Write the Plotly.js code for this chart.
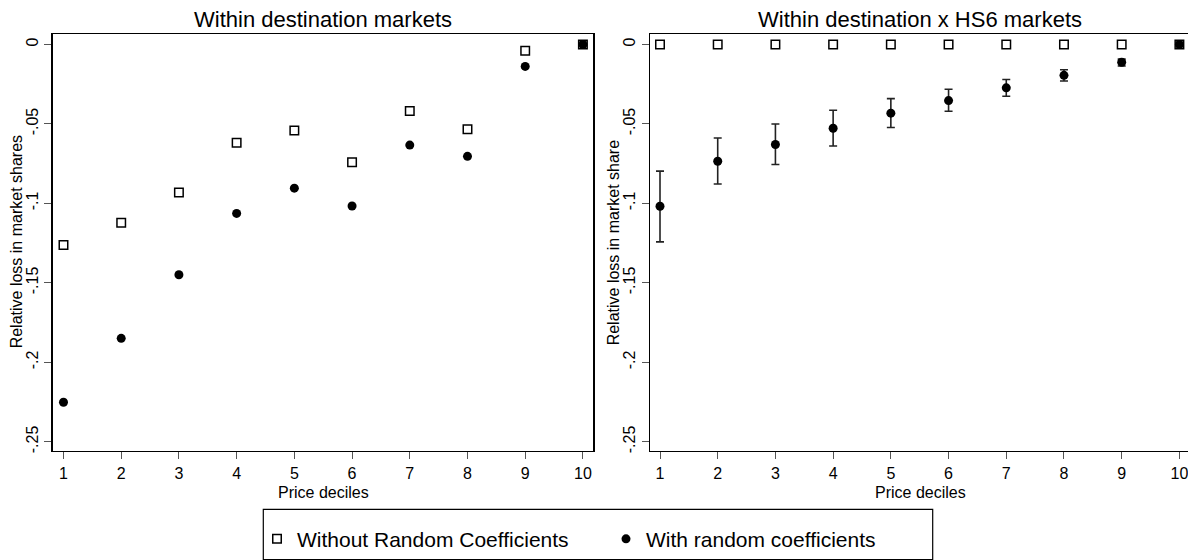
<!DOCTYPE html>
<html>
<head>
<meta charset="utf-8">
<script src="https://cdn.plot.ly/plotly-3.0.1.min.js"></script>
<style>html,body{margin:0;padding:0;background:#fff;}#chart{width:1188px;height:560px;}</style>
</head>
<body>
<div id="chart"></div>
<script>
// ---- data ----
const deciles = [1, 2, 3, 4, 5, 6, 7, 8, 9, 10];
const tickVals = [0, -0.05, -0.1, -0.15, -0.2, -0.25];
const tickText = ["0", "-.05", "-.1", "-.15", "-.2", "-.25"];

// Panel 1: within destination markets
const destWithoutRC = [-0.1261, -0.1122, -0.0931, -0.0618, -0.0541, -0.0741, -0.0418, -0.0533, -0.0040, 0];
const destWithRC    = [-0.2251, -0.1849, -0.1449, -0.1063, -0.0904, -0.1016, -0.0633, -0.0704, -0.0138, 0];

// Panel 2: within destination x HS6 markets
const hs6WithoutRC = [0, 0, 0, 0, 0, 0, 0, 0, 0, 0];
const hs6WithRC    = [-0.1018, -0.0735, -0.0629, -0.0527, -0.0432, -0.0353, -0.0273, -0.0194, -0.0112, 0];
const hs6CiHigh    = [-0.0797, -0.0588, -0.0500, -0.0414, -0.0341, -0.0282, -0.0220, -0.0159, -0.0092, null];
const hs6CiLow     = [-0.1242, -0.0878, -0.0755, -0.0639, -0.0522, -0.0420, -0.0326, -0.0230, -0.0135, null];

const seriesNames = ["Without Random Coefficients", "With random coefficients"];
const panelTitles = ["Within destination markets", "Within destination x HS6 markets"];
const xTitle = "Price deciles";
const yTitles = ["Relative loss in market shares", "Relative loss in market share"];

// ---- styling ----
const FONT = "Liberation Sans, Arial, Helvetica, sans-serif";
const W = 1188, H = 560;
const px = v => v / W;
const py = v => 1 - v / H;

const sqMarker = {symbol: "square-open", size: 8.5, color: "#000", line: {width: 1.5, color: "#000"}};
const circMarker = {symbol: "circle", size: 9, color: "#000", line: {width: 0}};

const errUp = hs6CiHigh.map((h, i) => h === null ? NaN : h - hs6WithRC[i]);
const errDn = hs6CiLow.map((l, i) => l === null ? NaN : hs6WithRC[i] - l);

const traces = [
  {x: deciles, y: destWithoutRC, type: "scatter", mode: "markers", name: seriesNames[0],
   marker: sqMarker, xaxis: "x", yaxis: "y", legendgroup: "a", showlegend: true, cliponaxis: false},
  {x: deciles, y: destWithRC, type: "scatter", mode: "markers", name: seriesNames[1],
   marker: circMarker, xaxis: "x", yaxis: "y", legendgroup: "b", showlegend: true, cliponaxis: false},
  {x: deciles, y: hs6WithoutRC, type: "scatter", mode: "markers", name: seriesNames[0],
   marker: sqMarker, xaxis: "x2", yaxis: "y2", legendgroup: "a", showlegend: false, cliponaxis: false},
  {x: deciles, y: hs6WithRC, type: "scatter", mode: "markers", name: seriesNames[1],
   marker: circMarker, xaxis: "x2", yaxis: "y2", legendgroup: "b", showlegend: false, cliponaxis: false,
   error_y: {type: "data", symmetric: false, array: errUp, arrayminus: errDn,
             color: "#222", thickness: 1.6, width: 4}}
];

const tickFont = {family: FONT, size: 16, color: "#000"};
const xBase = {
  tickvals: deciles, ticktext: deciles.map(String),
  ticks: "outside", ticklen: 7, tickwidth: 1, tickcolor: "#555",
  showline: true, linecolor: "#000", linewidth: 1.5, ticklabeloverflow: "allow",
  showgrid: false, zeroline: false, tickfont: tickFont, fixedrange: true
};
const yBase = {
  range: [-0.2557, 0.00655], tickvals: tickVals, ticktext: tickText, tickangle: -90,
  ticks: "outside", ticklen: 7, tickwidth: 1, tickcolor: "#555",
  showline: true, linecolor: "#000", linewidth: 1.5,
  showgrid: false, zeroline: false, tickfont: tickFont, fixedrange: true
};

const yDom = [py(463.3), py(35)];

const layout = {
  width: W, height: H,
  margin: {l: 0, r: 0, t: 0, b: 0},
  paper_bgcolor: "#fff", plot_bgcolor: "#fff",
  font: {family: FONT, color: "#000"},
  showlegend: true,
  xaxis: Object.assign({}, xBase, {domain: [px(52.7), px(593.3)], range: [0.813, 10.18], anchor: "y", mirror: true}),
  yaxis: Object.assign({}, yBase, {domain: yDom, anchor: "x", mirror: true}),
  xaxis2: Object.assign({}, xBase, {domain: [px(650), 1], range: [0.8267, 10.149], anchor: "y2", mirror: true}),
  yaxis2: Object.assign({}, yBase, {domain: yDom, anchor: "x2", mirror: false}),
  legend: {
    orientation: "h", x: px(257), xanchor: "left", y: py(533), yanchor: "top",
    font: {family: FONT, size: 21, color: "#000"},
    bgcolor: "rgba(0,0,0,0)", borderwidth: 0,
    entrywidth: 304, entrywidthmode: "pixels", itemclick: false, itemdoubleclick: false
  },
  shapes: [
    {type: "rect", xref: "paper", yref: "paper", x0: px(263.3), x1: px(932.7), y0: py(575), y1: py(523.3),
     line: {color: "#000", width: 1.2}, fillcolor: "rgba(0,0,0,0)", layer: "below"}
  ],
  annotations: [
    {text: panelTitles[0], xref: "paper", yref: "paper", x: px(323), y: py(20), xanchor: "center", yanchor: "middle",
     showarrow: false, font: {family: FONT, size: 22, color: "#000"}},
    {text: panelTitles[1], xref: "paper", yref: "paper", x: px(920), y: py(20), xanchor: "center", yanchor: "middle",
     showarrow: false, font: {family: FONT, size: 22, color: "#000"}},
    {text: xTitle, xref: "paper", yref: "paper", x: px(323), y: py(506), xanchor: "center", yanchor: "middle",
     showarrow: false, font: {family: FONT, size: 16, color: "#000"}},
    {text: xTitle, xref: "paper", yref: "paper", x: px(920), y: py(506), xanchor: "center", yanchor: "middle",
     showarrow: false, font: {family: FONT, size: 16, color: "#000"}},
    {text: yTitles[0], xref: "paper", yref: "paper", x: px(16), y: py(249), xanchor: "center", yanchor: "middle",
     textangle: -90, showarrow: false, font: {family: FONT, size: 16, color: "#000"}},
    {text: yTitles[1], xref: "paper", yref: "paper", x: px(613), y: py(249), xanchor: "center", yanchor: "middle",
     textangle: -90, showarrow: false, font: {family: FONT, size: 16, color: "#000"}}
  ]
};

Plotly.newPlot("chart", traces, layout, {staticPlot: true, displayModeBar: false});
</script>
</body>
</html>
